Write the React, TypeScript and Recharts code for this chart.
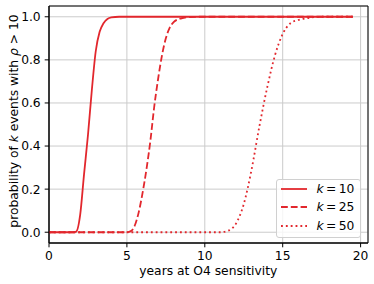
import React from 'react';
import {
    LineChart,
    Line,
    XAxis,
    YAxis,
    CartesianGrid,
    Legend,
    ReferenceArea
} from 'recharts';

const RED = '#e2272d';
const FONT = 12.3;

// k = 10 curve (solid)
const yearsK10 = [0, 1.5, 1.75, 2.0, 2.25, 2.5, 2.75, 3.0, 3.25, 3.5, 3.75, 4.0, 4.5, 5.0, 19.5];
const probK10 = [0, 0, 0.003, 0.08, 0.27, 0.45, 0.66, 0.84, 0.93, 0.97, 0.99, 0.997, 1, 1, 1];

// k = 25 curve (dashed)
const yearsK25 = [0, 5.0, 5.25, 5.5, 5.75, 6.0, 6.25, 6.5, 6.75, 7.0, 7.25, 7.5, 7.75, 8.0, 8.5, 9.0, 9.5, 19.5];
const probK25 = [0, 0, 0.005, 0.03, 0.09, 0.18, 0.29, 0.42, 0.58, 0.71, 0.82, 0.9, 0.95, 0.975, 0.993, 0.999, 1, 1];

// k = 50 curve (dotted)
const yearsK50 = [0, 11.0, 11.5, 12.0, 12.5, 13.0, 13.5, 14.0, 14.5, 15.0, 15.5, 16.0, 16.5, 17.0, 17.5, 19.5];
const probK50 = [0, 0, 0.007, 0.04, 0.13, 0.29, 0.49, 0.67, 0.82, 0.92, 0.97, 0.985, 0.993, 0.998, 1, 1];

const kLabels = ['10', '25', '50'];
const xTicks = [0, 5, 10, 15, 20];
const yTicks = [0, 0.2, 0.4, 0.6, 0.8, 1.0];

const X_MAX = 20.475;
const Y_MIN = -0.05;
const Y_MAX = 1.05;

const toPoints = (xs: number[], ys: number[]) => xs.map((x, i) => ({ x, p: ys[i] }));

const SERIES = [
    { k: kLabels[0], data: toPoints(yearsK10, probK10), dash: undefined as string | undefined },
    { k: kLabels[1], data: toPoints(yearsK25, probK25), dash: '6.8 3' },
    { k: kLabels[2], data: toPoints(yearsK50, probK50), dash: '1.85 3' },
];

const YLabel = () => (
    <text transform="translate(18,121) rotate(-90)" textAnchor="middle" fontSize={FONT} fill="#000">
        probability of <tspan fontStyle="italic">k</tspan> events with <tspan fontStyle="italic">ρ</tspan> &gt; 10
    </text>
);

const XLabel = () => (
    <text x={208.3} y={275} textAnchor="middle" fontSize={FONT} fill="#000">
        years at O4 sensitivity
    </text>
);

const LegendBox = () => (
    <div
        style={{
            position: 'relative',
            width: 85,
            height: 59,
            boxSizing: 'border-box',
            border: '1px solid #d0d0d0',
            borderRadius: 3,
            background: 'rgba(255,255,255,0.8)',
        }}
    >
        {SERIES.map((s, i) => (
            <div
                key={s.k}
                style={{
                    position: 'absolute',
                    left: 4,
                    top: 0 + i * 18.3,
                    height: 18,
                    display: 'flex',
                    alignItems: 'center',
                    fontSize: FONT,
                    color: '#000',
                    whiteSpace: 'nowrap',
                }}
            >
                <svg width={26} height={4} style={{ display: 'block' }}>
                    <line x1={0} y1={2} x2={26} y2={2} stroke={RED} strokeWidth={1.8} strokeDasharray={s.dash} />
                </svg>
                <span style={{ marginLeft: 9.4 }}>
                    <i>k</i>{'\u2009=\u2009'}{s.k}
                </span>
            </div>
        ))}
    </div>
);

export default function App() {
    return (
        <div
            style={{
                position: 'absolute',
                left: 0,
                top: 0,
                width: 374,
                height: 284,
                background: '#fff',
                fontFamily: '"DejaVu Sans", sans-serif',
            }}
        >
            <LineChart width={374} height={284} margin={{ top: 6, right: 6, bottom: 0, left: 0 }}>
                <CartesianGrid stroke="#cbcbcb" strokeWidth={1} />
                <XAxis
                    type="number"
                    dataKey="x"
                    domain={[0, X_MAX]}
                    ticks={xTicks}
                    allowDataOverflow
                    height={41}
                    tickSize={4.3}
                    tickMargin={4}
                    tick={{ fill: '#000', fontSize: FONT }}
                    tickLine={{ stroke: '#000' }}
                    axisLine={{ stroke: '#000' }}
                    label={<XLabel />}
                />
                <YAxis
                    type="number"
                    domain={[Y_MIN, Y_MAX]}
                    ticks={yTicks}
                    allowDataOverflow
                    width={49}
                    tickSize={4.3}
                    tickMargin={4}
                    tick={{ fill: '#000', fontSize: FONT }}
                    tickLine={{ stroke: '#000' }}
                    axisLine={{ stroke: '#000' }}
                    tickFormatter={(v: number) => v.toFixed(1)}
                    label={<YLabel />}
                />
                {SERIES.map((s) => (
                    <Line
                        key={s.k}
                        data={s.data}
                        dataKey="p"
                        type="monotone"
                        stroke={RED}
                        strokeWidth={1.8}
                        strokeDasharray={s.dash}
                        dot={false}
                        activeDot={false}
                        isAnimationActive={false}
                    />
                ))}
                <ReferenceArea
                    x1={0}
                    x2={X_MAX}
                    y1={Y_MIN}
                    y2={Y_MAX}
                    fill="none"
                    stroke="#000"
                    strokeWidth={1}
                    ifOverflow="visible"
                />
                <Legend
                    layout="vertical"
                    align="center"
                    verticalAlign="middle"
                    wrapperStyle={{ left: 276, top: 179, width: 85, height: 59 }}
                    content={() => <LegendBox />}
                />
            </LineChart>
        </div>
    );
}
